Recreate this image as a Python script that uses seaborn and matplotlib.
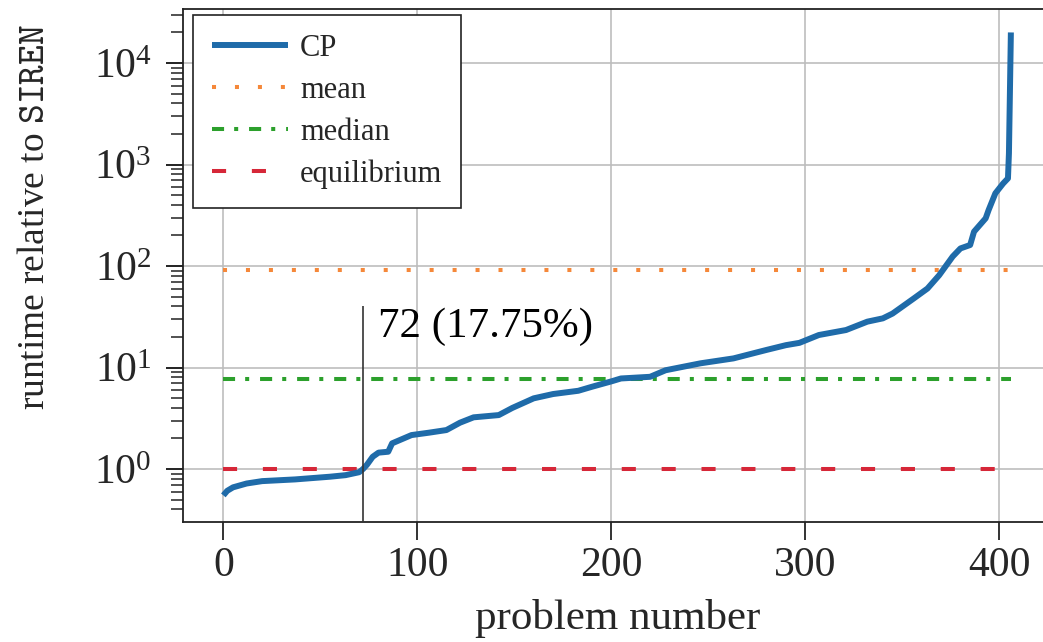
import matplotlib
matplotlib.use("Agg")
import matplotlib.pyplot as plt
import seaborn as sns
import numpy as np
import pandas as pd

# ---- data ----
problem_number = [0, 2, 5, 12, 20, 37, 55, 63, 70, 72, 74, 77, 80, 85, 87, 91, 97,
                  106, 115, 122, 129, 142, 149, 160, 170, 183, 190, 200, 205, 220,
                  228, 246, 263, 280, 290, 297, 307, 321, 332, 340, 345, 356, 363,
                  369, 376, 380, 385, 387, 393, 394.5, 398, 402, 404.5, 405, 406]
cp_runtime = [0.55, 0.61, 0.66, 0.72, 0.76, 0.79, 0.84, 0.87, 0.93, 1.0, 1.1, 1.32,
              1.45, 1.48, 1.79, 1.93, 2.16, 2.28, 2.42, 2.86, 3.23, 3.4, 4.0, 4.97,
              5.48, 5.9, 6.46, 7.3, 7.8, 8.1, 9.4, 11.0, 12.3, 14.9, 16.6, 17.5,
              20.9, 23.4, 28.3, 30.5, 34.0, 48.0, 60.0, 81.0, 124.0, 149.0, 161.0,
              218.0, 295.0, 355.0, 520.0, 650.0, 730.0, 1290.0, 20000.0]
mean_value = 91.0
median_value = 7.7
equilibrium_value = 1.0
line_range = [0, 406]
crossing_index = 72
crossing_label = "72 (17.75%)"
x_ticks = [0, 100, 200, 300, 400]

df = pd.DataFrame({"problem": problem_number, "runtime": cp_runtime})

sns.set_theme(style="ticks")
plt.rcParams["font.family"] = ["Liberation Serif", "DejaVu Serif"]
plt.rcParams["mathtext.fontset"] = "custom"
plt.rcParams["mathtext.rm"] = "Liberation Serif"
plt.rcParams["mathtext.it"] = "Liberation Serif:italic"
plt.rcParams["mathtext.bf"] = "Liberation Serif:bold"
plt.rcParams["mathtext.tt"] = "cmtt10"

W, H = 1043, 642
fig = plt.figure(figsize=(W / 100, H / 100), dpi=100)
left, right, top, bottom = 183, 1052, 9, 521.7
ax = fig.add_axes([left / W, (H - bottom) / H, (right - left) / W, (bottom - top) / H])

lw_ref = 2.9
sns.lineplot(data=df, x="problem", y="runtime", ax=ax, color="#1f6ba9",
             linewidth=4.3, label="CP", solid_capstyle="butt", zorder=5)
ax.plot(line_range, [mean_value] * 2, color="#f5883a", linewidth=lw_ref,
        dashes=(1, 4.7), label="mean", zorder=4)
ax.plot(line_range, [median_value] * 2, color="#2ca02c", linewidth=lw_ref,
        dashes=(3, 2.5, 1, 2.7), label="median", zorder=4)
ax.plot(line_range, [equilibrium_value] * 2, color="#d62738", linewidth=lw_ref,
        dashes=(3.5, 6.4), label="equilibrium", zorder=4)

ax.set_yscale("log")
ax.set_xlim(-20.8, 427.2)
ax.set_ylim(10 ** -0.519, 10 ** 4.532)
ax.vlines(crossing_index, 10 ** -0.6, 40, color="#333333", linewidth=1.2, zorder=6)
ax.text(crossing_index + 7.5, 25, crossing_label, fontsize=31, va="center",
        ha="left", color="black", zorder=7)

ax.set_xticks(x_ticks)
ax.grid(True, which="major", color="#bdbdbd", linewidth=1.2)
ax.set_axisbelow(True)
for s in ax.spines.values():
    s.set_color("#222222")
    s.set_linewidth(1.3)
ax.tick_params(axis="x", which="major", length=13, width=1.4, pad=5,
               labelsize=30, color="#333333", direction="out")
ax.tick_params(axis="y", which="major", length=12.5, width=1.4, pad=10,
               labelsize=30, color="#222222", direction="out")
ax.tick_params(axis="y", which="minor", length=8.5, width=1.1,
               color="#222222", direction="out")

ax.set_xlabel("problem number", fontsize=31, labelpad=10)
ax.set_ylabel(r"runtime relative to $\mathtt{SIREN}$", fontsize=27)
ax.yaxis.set_label_coords(-0.151, (521.7 - 217) / 512.7)

leg = ax.legend(loc="upper left", bbox_to_anchor=(10 / 869, 1 - 6 / 512.7),
                borderaxespad=0, fontsize=22, frameon=True, fancybox=False,
                framealpha=1, edgecolor="#222222", handlelength=2.5,
                handletextpad=0.38, labelspacing=0.42, borderpad=0.62)
leg.get_frame().set_linewidth(1.2)

fig.savefig("out.png", dpi=100)
